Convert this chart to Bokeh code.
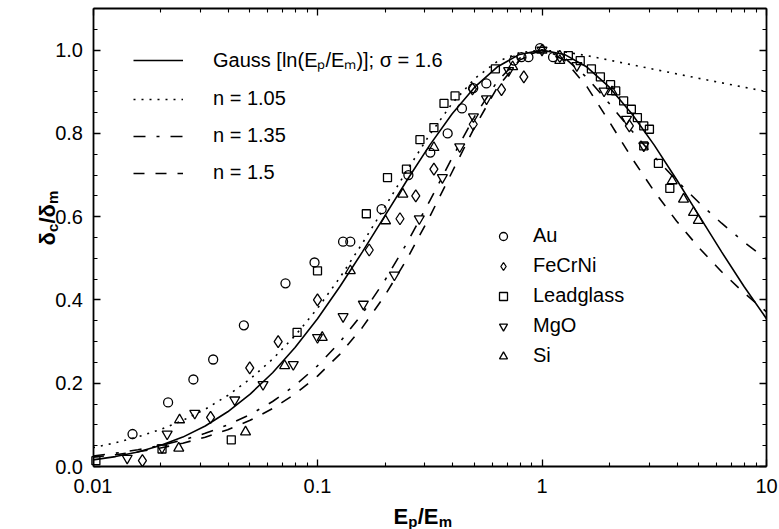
import math
from bokeh.plotting import figure
from bokeh.models import (Legend, LegendItem, Label, LinearAxis, LogAxis, FixedTicker,
                          CustomJSTickFormatter, PrintfTickFormatter, Range1d)
from bokeh.embed import file_html
from bokeh.resources import INLINE

# ---------------- data ----------------
curve_x = [0.01, 0.01259, 0.01585, 0.01995, 0.02512, 0.03162, 0.03981, 0.05012, 0.0631, 0.07943,
           0.1, 0.1259, 0.1585, 0.1995, 0.2512, 0.3162, 0.3981, 0.5012, 0.631, 0.7943,
           1.0, 1.259, 1.585, 1.995, 2.512, 3.162, 3.981, 5.012, 6.31, 7.943, 10.0]
gauss_y = [0.0159, 0.0238, 0.0349, 0.0502, 0.0706, 0.0973, 0.1314, 0.1738, 0.2251, 0.2856,
           0.3550, 0.4322, 0.5154, 0.6021, 0.6888, 0.7719, 0.8473, 0.9110, 0.9594, 0.9897,
           1.0, 0.9897, 0.9594, 0.9110, 0.8473, 0.7719, 0.6888, 0.6021, 0.5154, 0.4322, 0.3550]
n105_y = [0.0454, 0.0569, 0.0712, 0.0889, 0.1107, 0.1376, 0.1705, 0.2102, 0.2579, 0.3142,
          0.3796, 0.4539, 0.5360, 0.6234, 0.7122, 0.7972, 0.8722, 0.9317, 0.9724, 0.9940,
          1.0, 0.9959, 0.9868, 0.9760, 0.9649, 0.9539, 0.9430, 0.9322, 0.9215, 0.9110, 0.9005]
n135_y = [0.0254, 0.0319, 0.0401, 0.0504, 0.0634, 0.0796, 0.0998, 0.1249, 0.1561, 0.1946,
          0.2418, 0.2989, 0.3671, 0.4469, 0.5380, 0.6379, 0.7416, 0.8408, 0.9245, 0.9805,
          1.0, 0.9817, 0.9342, 0.8717, 0.8063, 0.7442, 0.6865, 0.6334, 0.5843, 0.5391, 0.4974]
n150_y = [0.0224, 0.0281, 0.0354, 0.0445, 0.0560, 0.0704, 0.0884, 0.1109, 0.1391, 0.1740,
          0.2171, 0.2700, 0.3341, 0.4106, 0.4996, 0.6001, 0.7079, 0.8152, 0.9096, 0.9760,
          1.0, 0.9762, 0.9125, 0.8280, 0.7411, 0.6608, 0.5890, 0.5249, 0.4678, 0.4169, 0.3716]

au_x = [0.015, 0.0216, 0.028, 0.0343, 0.047, 0.072, 0.097, 0.13, 0.14, 0.193, 0.254, 0.318,
        0.38, 0.44, 0.494, 0.565, 0.75, 0.81, 0.87, 0.98, 1.12]
au_y = [0.078, 0.154, 0.209, 0.257, 0.339, 0.44, 0.49, 0.54, 0.54, 0.618, 0.70, 0.754,
        0.80, 0.86, 0.909, 0.92, 0.975, 0.983, 0.983, 1.005, 0.983]

fecrni_x = [0.0166, 0.0334, 0.0499, 0.0668, 0.1, 0.17, 0.233, 0.274, 0.33, 0.494, 0.49,
            0.66, 0.83, 1.2, 2.45]
fecrni_y = [0.014, 0.118, 0.237, 0.30, 0.40, 0.52, 0.595, 0.65, 0.714, 0.822, 0.907,
            0.905, 0.936, 0.985, 0.818]

lead_x = [0.0103, 0.0203, 0.0413, 0.0811, 0.1, 0.165, 0.205, 0.249, 0.286, 0.33, 0.366, 0.41,
          0.62, 1.31, 1.48, 1.66, 1.82, 2.02, 2.13, 2.31, 2.5, 2.66, 2.84, 3.01, 2.84, 3.3, 3.71]
lead_y = [0.014, 0.042, 0.064, 0.322, 0.47, 0.607, 0.694, 0.714, 0.785, 0.814, 0.872, 0.89,
          0.955, 0.987, 0.975, 0.955, 0.936, 0.917, 0.902, 0.878, 0.858, 0.838, 0.818, 0.81,
          0.77, 0.728, 0.668]

mgo_x = [0.0142, 0.0203, 0.0214, 0.0284, 0.0428, 0.0572, 0.078, 0.1, 0.13, 0.16, 0.22, 0.284,
         0.36, 0.43, 0.495, 0.566, 0.71, 1.0, 1.43, 1.89, 2.38, 2.84]
mgo_y = [0.02, 0.045, 0.078, 0.128, 0.16, 0.197, 0.245, 0.31, 0.36, 0.39, 0.46, 0.595,
         0.694, 0.768, 0.84, 0.883, 0.951, 1.0, 0.963, 0.902, 0.834, 0.77]

si_x = [0.0241, 0.0243, 0.0478, 0.0714, 0.105, 0.14, 0.201, 0.24, 0.33, 0.74, 1.0, 1.2,
        2.05, 3.8, 4.27, 4.73, 4.97]
si_y = [0.044, 0.112, 0.083, 0.242, 0.31, 0.47, 0.59, 0.654, 0.766, 0.96, 1.0, 0.975,
        0.90, 0.686, 0.642, 0.61, 0.591]

x_major = [0.01, 0.1, 1, 10]
x_minor = [0.02, 0.03, 0.04, 0.05, 0.06, 0.07, 0.08, 0.09,
           0.2, 0.3, 0.4, 0.5, 0.6, 0.7, 0.8, 0.9,
           2, 3, 4, 5, 6, 7, 8, 9]
y_major = [0.0, 0.2, 0.4, 0.6, 0.8, 1.0]
y_minor = [0.05, 0.1, 0.15, 0.25, 0.3, 0.35, 0.45, 0.5, 0.55, 0.65, 0.7, 0.75,
           0.85, 0.9, 0.95, 1.05, 1.1]
x_lo, x_hi = 0.01, 10
y_lo, y_hi = 0.0, 1.1

line_labels = ["Gauss [ln(E\u209a/E\u2098)]; \u03c3 = 1.6", "n = 1.05", "n = 1.35", "n = 1.5"]
marker_labels = ["Au", "FeCrNi", "Leadglass", "MgO", "Si"]

FONT = "Liberation Sans"
W, H = 779, 529

# ------------- figure: the frame fills the canvas, the box is drawn by fixed axes -------------
# pixel geometry of the box: left 92.5, right 766, top 8, bottom 466
dec = (766 - 92.5) / 3.0
x_start = 10 ** (math.log10(x_lo) - 92.5 / dec)
x_end = 10 ** (math.log10(x_hi) + (W - 766) / dec)
ppu = (466 - 8) / (y_hi - y_lo)
y_start = y_lo - (H - 466) / ppu
y_end = y_hi + 8 / ppu

p = figure(width=W, height=H, x_axis_type="log",
           x_range=Range1d(x_start, x_end), y_range=Range1d(y_start, y_end),
           output_backend="svg", toolbar_location=None,
           min_border=0, min_border_left=0, min_border_right=0,
           min_border_top=0, min_border_bottom=0)
p.grid.visible = False
p.outline_line_color = None
p.background_fill_color = "white"
p.border_fill_color = "white"


def style_axis(ax, labels=True):
    ax.axis_line_color = "black"
    ax.axis_line_width = 1.8
    ax.major_tick_in = 7
    ax.major_tick_out = 0
    ax.minor_tick_in = 4
    ax.minor_tick_out = 0
    ax.major_tick_line_width = 1.3
    ax.minor_tick_line_width = 1.1
    ax.major_tick_line_color = "black"
    ax.minor_tick_line_color = "black"
    ax.major_label_text_font = FONT
    ax.major_label_text_color = "black"
    if labels:
        ax.major_label_text_font_size = "20px"
    else:
        ax.major_label_text_font_size = "0px"
        ax.major_label_standoff = 0


xa = p.xaxis[0]
xa.ticker = FixedTicker(ticks=x_major, minor_ticks=x_minor)
xa.formatter = CustomJSTickFormatter(code="return tick.toString()")
xa.fixed_location = y_lo
xa.bounds = (x_lo, x_hi)
style_axis(xa)
xa.major_label_standoff = 12

ya = p.yaxis[0]
ya.ticker = FixedTicker(ticks=y_major, minor_ticks=y_minor)
ya.formatter = PrintfTickFormatter(format="%.1f")
ya.fixed_location = x_lo
ya.bounds = (y_lo, y_hi)
style_axis(ya)
ya.major_label_standoff = 10

top = LogAxis(ticker=FixedTicker(ticks=x_major, minor_ticks=x_minor),
              formatter=CustomJSTickFormatter(code="return ''"),
              fixed_location=y_hi, bounds=(x_lo, x_hi))
style_axis(top, labels=False)
p.add_layout(top, "above")

right = LinearAxis(ticker=FixedTicker(ticks=y_major, minor_ticks=y_minor),
                   formatter=CustomJSTickFormatter(code="return ''"),
                   fixed_location=x_hi, bounds=(y_lo, y_hi))
style_axis(right, labels=False)
p.add_layout(right, "right")

# ---------------- curves ----------------
r_g = p.line(curve_x, gauss_y, line_color="black", line_width=1.6)
r_105 = p.line(curve_x, n105_y, line_color="black", line_width=1.6, line_dash="2 6")
r_135 = p.line(curve_x, n135_y, line_color="black", line_width=1.6, line_dash="12 11 3 11")
r_150 = p.line(curve_x, n150_y, line_color="black", line_width=1.6, line_dash="11 11")

mk = dict(fill_color=None, line_color="black", line_width=1.3)
r_au = p.scatter(au_x, au_y, marker="circle", size=9, **mk)
r_fe = p.scatter(fecrni_x, fecrni_y, marker="diamond", size=12, **mk)
r_pb = p.scatter(lead_x, lead_y, marker="square", size=8, **mk)
r_mg = p.scatter(mgo_x, mgo_y, marker="inverted_triangle", size=10, **mk)
r_si = p.scatter(si_x, si_y, marker="triangle", size=10, **mk)

# ---------------- legends ----------------
leg_common = dict(padding=0, margin=0, border_line_color=None, background_fill_alpha=0,
                  label_text_font=FONT, label_text_color="black", label_text_font_size="20px")

leg1 = Legend(items=[LegendItem(label=l, renderers=[r]) for l, r in
                     zip(line_labels, [r_g, r_105, r_135, r_150])],
              location=(133, 345), glyph_width=50, glyph_height=20, label_height=20,
              label_standoff=30, spacing=14, **leg_common)
p.add_layout(leg1)

leg2 = Legend(items=[LegendItem(label=l, renderers=[r]) for l, r in
                     zip(marker_labels, [r_au, r_fe, r_pb, r_mg, r_si])],
              location=(493, 162), glyph_width=20, glyph_height=20, label_height=20,
              label_standoff=20, spacing=7, **leg_common)
p.add_layout(leg2)


# ---------------- axis titles with real subscripts ----------------
def piece(text, X, Y, size, angle=0.0):
    # X, Y: canvas pixels from the top-left corner
    p.add_layout(Label(x=X, y=H - Y, x_units="screen", y_units="screen", text=text,
                       text_font=FONT, text_font_style="bold", text_font_size=size,
                       text_color="black", text_align="left", text_baseline="alphabetic",
                       angle=angle))


# x title: E_p / E_m
bx, by = 393, 516
piece("E", bx, by, "22px")
piece("p", bx + 14.7, by + 5, "15px")
piece("/E", bx + 24.2, by, "22px")
piece("m", bx + 45.3, by + 5, "15px")

# y title: delta_c / delta_m (rotated, reading upwards)
rx, ry = 47, 245
rot = math.pi / 2
piece("\u03b4", rx, ry, "22px", rot)
piece("c", rx + 5, ry - 13.4, "15px", rot)
piece("/\u03b4", rx, ry - 21.9, "22px", rot)
piece("m", rx + 5, ry - 41.6, "15px", rot)

open("out.html", "w").write(file_html(p, INLINE))
